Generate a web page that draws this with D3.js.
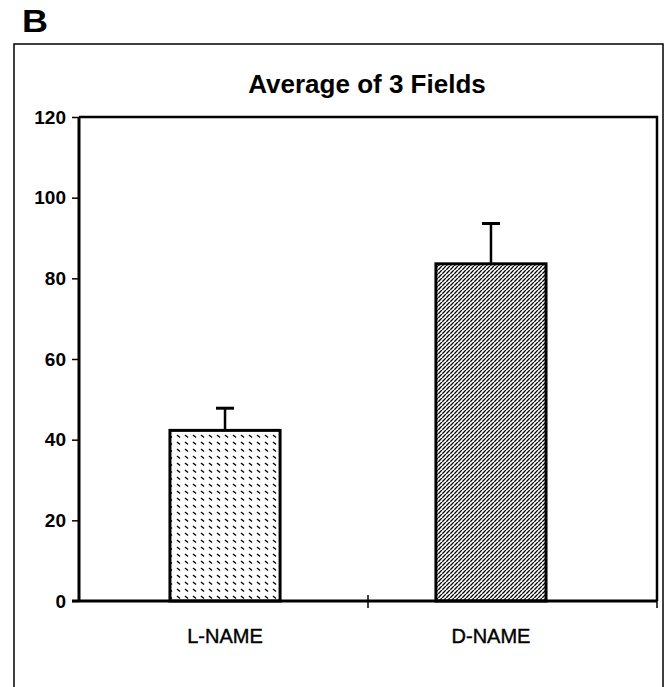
<!DOCTYPE html>
<html>
<head>
<meta charset="utf-8">
<script src="https://cdn.jsdelivr.net/npm/d3@7"></script>
<style>
  body { margin: 0; background: #fff; }
  svg { display: block; font-family: "Liberation Sans", Arial, sans-serif; }
</style>
</head>
<body>
<div id="mainDiv"></div>
<script>
'use strict';

// chart data
var categories = ['L-NAME', 'D-NAME'];
var means      = [42.3, 83.6];
var errTops    = [47.8, 93.6];
var yTicks     = [0, 20, 40, 60, 80, 100, 120];
var patterns   = ['hatchL', 'hatchD'];

var W = 668, H = 687;
var plot = {left: 79, right: 657, top: 117, bottom: 601};

var svg = d3.select('#mainDiv').append('svg')
    .attr('width', W)
    .attr('height', H);

// fill patterns
var defs = svg.append('defs');

var pL = defs.append('pattern')
    .attr('id', 'hatchL')
    .attr('patternUnits', 'userSpaceOnUse')
    .attr('width', 8).attr('height', 7);
pL.append('rect').attr('width', 8).attr('height', 7).attr('fill', '#fff');
pL.append('path')
    .attr('d', 'M1,1 L4,3.5')
    .attr('stroke', '#000').attr('stroke-width', 1.4);

var pD = defs.append('pattern')
    .attr('id', 'hatchD')
    .attr('patternUnits', 'userSpaceOnUse')
    .attr('width', 4).attr('height', 4);
pD.append('rect').attr('width', 4).attr('height', 4).attr('fill', '#fff');
pD.append('path')
    .attr('d', 'M-1,1 L1,-1 M0,4 L4,0 M3,5 L5,3')
    .attr('stroke', '#000').attr('stroke-width', 1.25)
    .attr('stroke-dasharray', '2.6,0.6');

// panel letter
svg.append('text')
    .attr('x', 22).attr('y', 32)
    .attr('font-size', 31).attr('font-weight', 'bold')
    .attr('textLength', 26).attr('lengthAdjust', 'spacingAndGlyphs')
    .text('B');

// outer frame
svg.append('rect')
    .attr('x', 14).attr('y', 44)
    .attr('width', 649).attr('height', 700)
    .attr('fill', 'none').attr('stroke', '#000').attr('stroke-width', 1.5);

// title
svg.append('text')
    .attr('x', 367).attr('y', 93)
    .attr('text-anchor', 'middle')
    .attr('font-size', 26).attr('font-weight', 'bold')
    .text('Average of 3 Fields');

// bars sit a little left of the category centres in the scan
var x = d3.scaleBand()
    .domain(categories)
    .range([plot.left, 637])
    .paddingInner(0.586)
    .paddingOuter(0.342);

var xEdge = d3.scalePoint()
    .domain(d3.range(categories.length + 1))
    .range([plot.left, plot.right]);

var y = d3.scaleLinear()
    .domain([0, 120])
    .range([plot.bottom, plot.top]);

// plot frame (top + right)
svg.append('path')
    .attr('d', 'M' + plot.left + ',' + plot.top + 'H' + plot.right + 'V' + plot.bottom)
    .attr('fill', 'none').attr('stroke', '#000').attr('stroke-width', 2.5);

// bars
svg.selectAll('rect.bar')
    .data(categories)
    .enter()
    .append('rect')
    .attr('class', 'bar')
    .attr('x', function(d){ return x(d); })
    .attr('y', function(d, i){ return y(means[i]); })
    .attr('width', x.bandwidth())
    .attr('height', function(d, i){ return y(0) - y(means[i]); })
    .attr('fill', function(d, i){ return 'url(#' + patterns[i] + ')'; })
    .attr('stroke', '#000').attr('stroke-width', 3);

// error bars (upper only)
var eb = svg.selectAll('g.err')
    .data(categories)
    .enter()
    .append('g')
    .attr('class', 'err');
eb.append('line')
    .attr('x1', function(d){ return x(d) + x.bandwidth() / 2; })
    .attr('x2', function(d){ return x(d) + x.bandwidth() / 2; })
    .attr('y1', function(d, i){ return y(means[i]); })
    .attr('y2', function(d, i){ return y(errTops[i]); })
    .attr('stroke', '#000').attr('stroke-width', 2.5);
eb.append('line')
    .attr('x1', function(d){ return x(d) + x.bandwidth() / 2 - 9; })
    .attr('x2', function(d){ return x(d) + x.bandwidth() / 2 + 9; })
    .attr('y1', function(d, i){ return y(errTops[i]); })
    .attr('y2', function(d, i){ return y(errTops[i]); })
    .attr('stroke', '#000').attr('stroke-width', 3);

// y axis
var yAxis = svg.append('g')
    .attr('transform', 'translate(' + plot.left + ',0)')
    .call(d3.axisLeft(y).tickValues(yTicks).tickSize(7).tickPadding(6));
yAxis.select('.domain').attr('stroke-width', 3).attr('d', 'M0,' + plot.top + 'V' + plot.bottom);
yAxis.selectAll('.tick line').attr('stroke-width', 1.5);
yAxis.selectAll('.tick text')
    .attr('font-size', 19).attr('font-weight', 'bold')
    .attr('font-family', '"Liberation Sans", Arial, sans-serif');

// x axis line with ticks between categories
svg.append('line')
    .attr('x1', plot.left - 7).attr('x2', plot.right)
    .attr('y1', plot.bottom).attr('y2', plot.bottom)
    .attr('stroke', '#000').attr('stroke-width', 3);
svg.selectAll('line.xtick')
    .data(d3.range(1, categories.length + 1))
    .enter()
    .append('line')
    .attr('class', 'xtick')
    .attr('x1', function(d){ return xEdge(d); })
    .attr('x2', function(d){ return xEdge(d); })
    .attr('y1', plot.bottom - 6)
    .attr('y2', plot.bottom + 7)
    .attr('stroke', '#000').attr('stroke-width', 1.5);

// category labels
svg.selectAll('text.cat')
    .data(categories)
    .enter()
    .append('text')
    .attr('class', 'cat')
    .attr('x', function(d){ return x(d) + x.bandwidth() / 2; })
    .attr('y', plot.bottom + 42)
    .attr('text-anchor', 'middle')
    .attr('font-size', 20)
    .attr('stroke', '#000').attr('stroke-width', 0.4)
    .text(function(d){ return d; });
</script>
</body>
</html>
